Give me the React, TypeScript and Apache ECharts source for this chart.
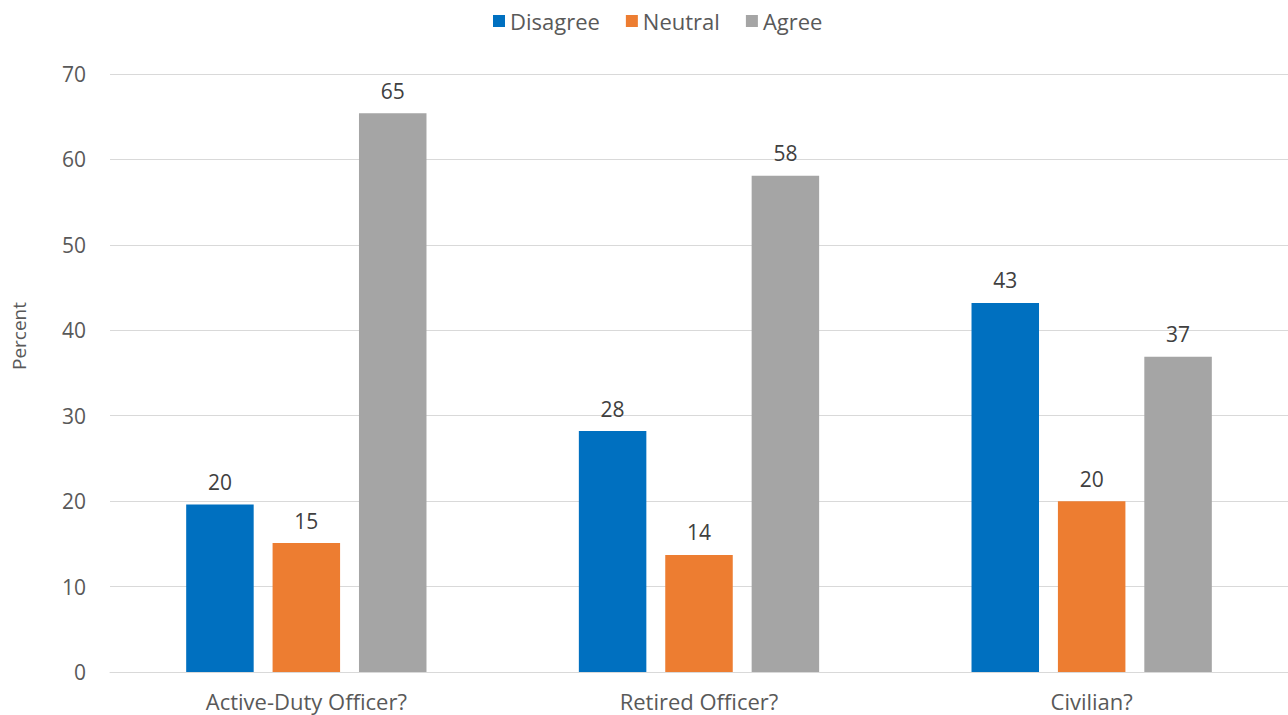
import React, { useEffect, useRef } from "react";
import * as echarts from "echarts";

const categories = ["Active-Duty Officer?", "Retired Officer?", "Civilian?"];
const seriesNames = ["Disagree", "Neutral", "Agree"];
const disagree = [19.6, 28.2, 43.2];
const neutral = [15.1, 13.7, 20.0];
const agree = [65.4, 58.1, 36.9];
const colors = ["#0070C0", "#ED7D31", "#A5A5A5"];
const yTicks = { min: 0, max: 70, interval: 10 };

const FONT = "'Open Sans', 'Liberation Sans', Arial, sans-serif";
const TXT = "#595959";

export default function App() {
  const ref = useRef<HTMLDivElement>(null);
  useEffect(() => {
    if (!ref.current) return;
    const chart = echarts.init(ref.current, undefined, { renderer: "svg" });
    const values = [disagree, neutral, agree];
    chart.setOption({
      animation: false,
      textStyle: { fontFamily: FONT },
      legend: {
        top: 5,
        left: 488,
        itemWidth: 12,
        itemHeight: 12,
        itemGap: 26,
        icon: "rect",
        textStyle: { fontSize: 22, color: TXT, fontFamily: FONT },
        data: seriesNames,
      },
      grid: { left: 110, right: 0, top: 74, bottom: 43, containLabel: false },
      xAxis: {
        type: "category",
        data: categories,
        axisLine: { lineStyle: { color: "#D9D9D9", width: 1 } },
        axisTick: { show: false },
        axisLabel: { fontSize: 22, color: TXT, margin: 18, fontFamily: FONT },
      },
      yAxis: {
        type: "value",
        min: yTicks.min,
        max: yTicks.max,
        interval: yTicks.interval,
        name: "Percent",
        nameLocation: "middle",
        nameGap: 82,
        nameTextStyle: { fontSize: 19, color: TXT, fontFamily: FONT, padding: [0, 0, 0, 74] },
        axisLine: { show: false },
        axisTick: { show: false },
        axisLabel: { fontSize: 21, color: TXT, margin: 24, fontFamily: FONT },
        splitLine: { lineStyle: { color: "#D9D9D9", width: 1 } },
      },
      series: seriesNames.map((name, i) => ({
        name,
        type: "bar",
        data: values[i],
        barWidth: 67.5,
        barGap: "28%",
        itemStyle: { color: colors[i] },
        label: {
          show: true,
          position: "top",
          distance: 12,
          fontSize: 21,
          color: "#404040",
          fontFamily: FONT,
          formatter: (p: any) => String(Math.round(p.value)),
        },
      })),
    });
    return () => chart.dispose();
  }, []);
  return (
    <div
      ref={ref}
      style={{ position: "fixed", left: 0, top: 0, width: 1288, height: 715, background: "#fff" }}
    />
  );
}
